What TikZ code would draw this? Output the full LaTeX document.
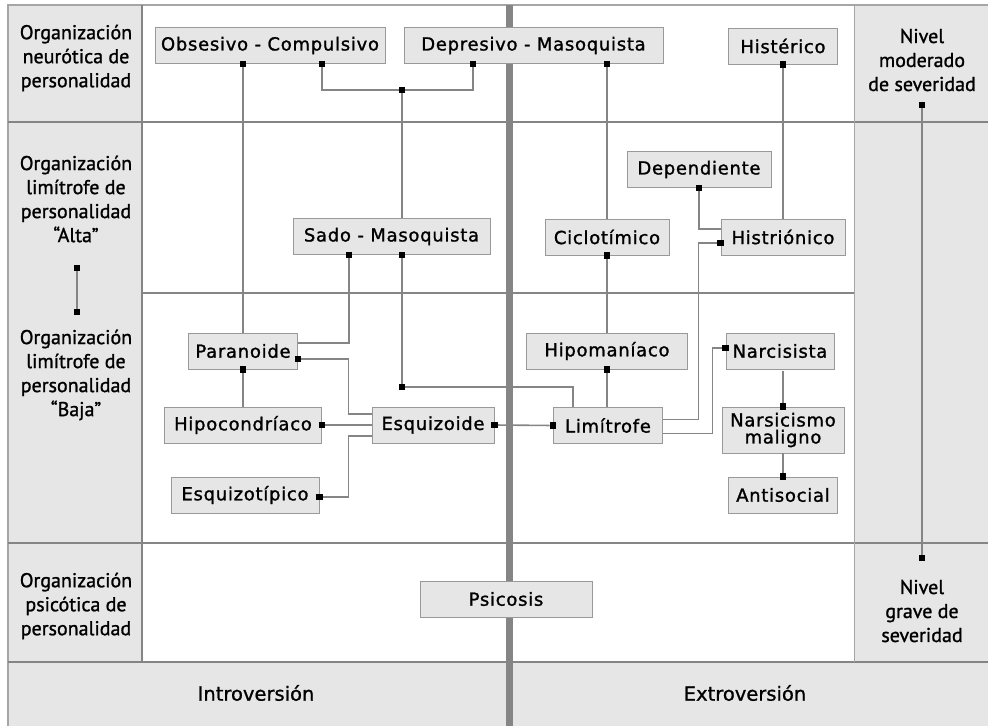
\documentclass[tikz,border=0pt]{standalone}
\usepackage{fontspec}
\setmainfont[FakeBold=1.2]{PT Sans}
\newfontfamily\boxfont[LetterSpace=4, FakeBold=1.3]{DejaVu Sans}
\newfontfamily\axisfont[FakeBold=1]{DejaVu Sans}
\usetikzlibrary{positioning}
\definecolor{cellgray}{HTML}{E6E6E6}
\definecolor{linegray}{HTML}{858585}

\begin{document}
\begin{tikzpicture}[x=1pt, y=-1pt,
        box/.style={rectangle, draw=black!40, fill=cellgray, line width=0.8pt, inner sep=0pt, minimum height=36pt, font=\boxfont\fontsize{18}{18}\selectfont},
        knob/.style={rectangle, fill=black, inner sep=0pt, minimum size=6.5pt},
        link/.style={draw=linegray, line width=1.6pt},
        grid/.style={draw=linegray, line width=1.6pt},
        side/.style={align=center, font=\fontsize{20}{24}\selectfont},
        axis/.style={font=\axisfont\fontsize{19.5}{22}\selectfont}
      ]
        \useasboundingbox (0,0) rectangle (988,726);

        % cells
        \fill[cellgray] (8,5) rectangle (142,662);
        \fill[cellgray] (854,5) rectangle (988,662);
        \fill[cellgray] (8,662) rectangle (988,726);
        \draw[grid, draw=black!35] (988,5) -- (8,5) -- (8,726);
        \draw[grid] (8,122) -- (988,122);
        \draw[grid] (142,293) -- (854,293);
        \draw[grid] (8,543) -- (988,543);
        \draw[grid] (8,662) -- (988,662);
        \draw[grid] (142,5) -- (142,662);
        \draw[grid, draw=black!35, line width=1pt] (854,5) -- (854,662);
        \draw[linegray, line width=7pt] (509,5) -- (509,726);

        % side labels
        \node[side] (neur)  at (76,58)   {Organización\\neurótica de\\personalidad};
        \node[side] (alta)  at (76,199)  {Organización\\limítrofe de\\personalidad\\“Alta”};
        \node[side] (baja)  at (76,375)  {Organización\\limítrofe de\\personalidad\\“Baja”};
        \node[side] (psico) at (76,606)  {Organización\\psicótica de\\personalidad};
        \node[side] (modr)  at (922,60)  {Nivel\\moderado\\de severidad};
        \node[side] (grav)  at (922,611) {Nivel\\grave de\\severidad};
        \node[axis] (intro) at (256,693) {Introversión};
        \node[axis] (extro) at (745,693) {Extroversión};

        \node[knob] (ka)   at (77,268)  {};
        \node[knob] (kb)   at (77,312)  {};
        \node[knob] (kmod) at (922,105) {};
        \node[knob] (kgrv) at (922,558) {};

        % boxes
        \node[box, minimum width=230pt] (obs)   at (270,45.5)  {Obsesivo - Compulsivo};
        \node[box, minimum width=259pt] (dep)   at (533.5,45.5) {Depresivo - Masoquista};
        \node[box, minimum width=109pt] (hist)  at (783,46)    {Histérico};
        \node[box, minimum width=144pt] (depd)  at (699,169.5) {Dependiente};
        \node[box, minimum width=197pt] (sado)  at (391.5,236.5) {Sado - Masoquista};
        \node[box, minimum width=124pt] (cicl)  at (607,237)   {Ciclotímico};
        \node[box, minimum width=124pt] (histr) at (783,237)   {Histriónico};
        \node[box, minimum width=109pt] (para)  at (243,351)   {Paranoide};
        \node[box, minimum width=161pt] (hipm)  at (607,351)   {Hipomaníaco};
        \node[box, minimum width=108pt] (narc)  at (780,351)   {Narcisista};
        \node[box, minimum width=157pt] (hipo)  at (243,425)   {Hipocondríaco};
        \node[box, minimum width=122pt] (esqz)  at (433,425)   {Esquizoide};
        \node[box, minimum width=109pt] (limi)  at (608,425.5) {Limítrofe};
        \node[box, minimum width=122pt, minimum height=46pt, align=center,
              font=\boxfont\fontsize{18}{17}\selectfont] (nmal) at (783,430) {Narsicismo\\maligno};
        \node[box, minimum width=148pt] (esqt)  at (245,495)   {Esquizotípico};
        \node[box, minimum width=109pt] (anti)  at (783,495)   {Antisocial};
        \node[box, minimum width=172pt] (psic)  at (506,599)   {Psicosis};

        % markers
        \node[knob] (k1)  at ([xshift=-27pt]obs.south)  {};
        \node[knob] (k2)  at ([xshift=52pt]obs.south)   {};
        \node[knob] (k3)  at ([xshift=-60.5pt]dep.south) {};
        \node[knob] (k4)  at ([xshift=73.5pt]dep.south) {};
        \node[knob] (kj)  at (402,90)                   {};
        \node[knob] (k6)  at (hist.south)               {};
        \node[knob] (k7)  at ([xshift=-42.5pt]sado.south) {};
        \node[knob] (k8)  at ([xshift=10.5pt]sado.south) {};
        \node[knob] (k9)  at (cicl.south)               {};
        \node[knob] (k10) at (depd.south)               {};
        \node[knob] (k11) at ([yshift=-6pt]histr.west)  {};
        \node[knob] (k12) at (para.south)               {};
        \node[knob] (k13) at ([yshift=-8pt]para.east)   {};
        \node[knob] (k14) at (hipo.east)                {};
        \node[knob] (k15) at ([yshift=-2pt]esqt.east)   {};
        \node[knob] (k16) at (esqz.east)                {};
        \node[knob] (kj2) at (402,387)                  {};
        \node[knob] (k18) at (limi.west)                {};
        \node[knob] (k19) at (hipm.south)               {};
        \node[knob] (k20) at ([yshift=3pt]narc.west)    {};
        \node[knob] (k21) at (nmal.north)               {};
        \node[knob] (k22) at (anti.north)               {};

        % connectors
        \draw[link] (ka) -- (kb);
        \draw[link] (kmod) -- (kgrv);
        \draw[link] (k1) -- (k1 |- para.north);
        \draw[link] (k2) |- (kj) -| (k3);
        \draw[link] (kj) -- (kj |- sado.north);
        \draw[link] (k4) -- (k4 |- cicl.north);
        \draw[link] (k6) -- (k6 |- histr.north);
        \draw[link] (k10) |- ([yshift=8pt]histr.west);
        \draw[link] ([yshift=6pt]limi.east) -| ([xshift=-22pt]k11.center) -- (k11);
        \draw[link] (k7) |- ([yshift=8pt]para.east);
        \draw[link] (k13) -| ([xshift=-23pt,yshift=11pt]esqz.west) -- ([yshift=11pt]esqz.west);
        \draw[link] (k12) -- (k12 |- hipo.north);
        \draw[link] (k14) -- (k14 -| esqz.west);
        \draw[link] (k15) -| ([xshift=-23pt,yshift=-11pt]esqz.west) -- ([yshift=-11pt]esqz.west);
        \draw[link] (k8) -- (kj2);
        \draw[link] (kj2) -| ([xshift=-35pt]limi.north);
        \draw[link] (k16) -- (k18);
        \draw[link] (k9) -- (k9 |- hipm.north);
        \draw[link] (k19) -- (k19 |- limi.north);
        \draw[link] ([yshift=-8pt]limi.east) -| ([xshift=-13pt]k20.center) -- (k20);
        \draw[link] ([yshift=-2pt]k21 |- narc.south) -- (k21);
        \draw[link] (nmal.south) -- (k22);
      \end{tikzpicture}
\end{document}
